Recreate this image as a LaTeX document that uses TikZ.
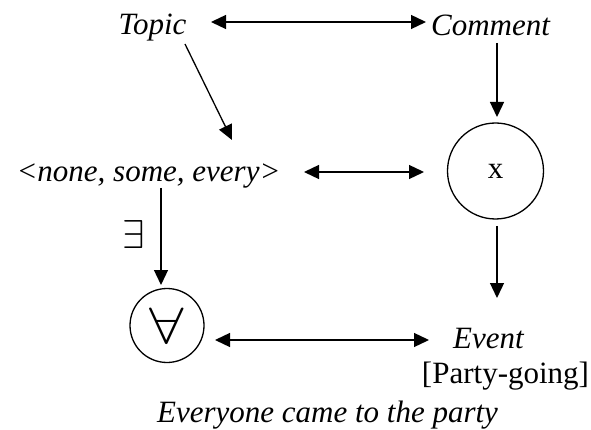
\RequirePackage{fix-cm}
\documentclass[tikz,border=0pt]{standalone}
\usepackage{fontspec}
\setmainfont{Liberation Serif}
\usetikzlibrary{arrows.meta,calc}
\tikzset{
  txt/.style={inner sep=0pt, anchor=base, font=\fontsize{31}{35}\selectfont},
  ring/.style={draw, circle, line width=1.3pt, inner sep=0pt, font=\fontsize{31}{35}\selectfont},
  conn/.style={line width=1.3pt, -{Triangle[length=15pt,width=14pt]}},
  dconn/.style={line width=1.3pt, {Triangle[length=15pt,width=14pt]}-{Triangle[length=15pt,width=14pt]}}
}
\begin{document}
\begin{tikzpicture}[x=1pt,y=-1pt]
\useasboundingbox (0,0) rectangle (591,430);
\node[txt] (topic) at (152.5,35) {\itshape Topic};
\node[txt] (comment) at (490.5,36) {\itshape Comment};
\node[txt] (nse) at (148.5,182) {\itshape <none, some, every>};
\node[ring, minimum size=96pt] (xc) at (495.5,171) {\raisebox{-4pt}{x}};
\node[ring, minimum size=74pt] (fa) at (167,325.5) {\raisebox{-4pt}{\scalebox{2.0}[1.65]{$\forall$}}};
\node[txt] (ex) at (134,248) {\scalebox{1.3}{$\exists$}};
\node[txt] (event) at (488.5,348) {\itshape Event};
\node[txt] (party) at (505.5,383) {[Party-going]};
\node[txt] (every) at (327.5,422) {\itshape Everyone came to the party};
\draw[dconn] ($(topic.base)+(58.5,-13)$) -- ($(comment.base)+(-64.5,-14)$);
\draw[conn] ($(topic.base)+(32.5,9)$) -- ($(nse.base)+(83.5,-42)$);
\draw[conn] ($(comment.base)+(6.5,7)$) -- ($(xc.center)+(1.5,-54)$);
\draw[dconn] ($(nse.base)+(155.5,-10)$) -- ($(xc.center)+(-71.5,1)$);
\draw[conn] ($(nse.base)+(12.5,6)$) -- ($(fa.center)+(-6,-40.5)$);
\draw[conn] ($(xc.center)+(1.5,55)$) -- ($(event.base)+(8.5,-50)$);
\draw[dconn] ($(fa.center)+(48,14.5)$) -- ($(event.base)+(-59.5,-8)$);
\end{tikzpicture}
\end{document}
